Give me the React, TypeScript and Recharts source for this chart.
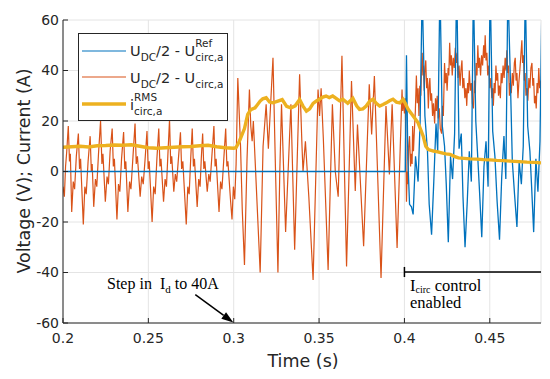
import React from 'react';
import { LineChart, Line, XAxis, YAxis, CartesianGrid, ReferenceLine } from 'recharts';

const xTicks = [0.2, 0.25, 0.3, 0.35, 0.4, 0.45];
const yTicks = [-60, -40, -20, 0, 20, 40, 60];

// U_DC/2 - U_circ,a^Ref  [time s, value V]
const refVoltage: [number, number][] = [
  [0.2, 0], [0.4005, 0], [0.4012, 46], [0.402, 5], [0.403, -13], [0.4041, -14], [0.4051, -17], [0.4065, 6], [0.408, -4], [0.4092, 20], [0.4104, 72],
  [0.412, 22], [0.4135, 8], [0.4145, -13], [0.4159, -25], [0.4172, -4], [0.4185, 19], [0.4195, 8], [0.4208, 74],
  [0.4222, 18], [0.4235, 10], [0.4245, -5], [0.4257, -28], [0.427, 6], [0.4282, -3], [0.4294, 15], [0.4306, 76],
  [0.432, 9], [0.4333, 15], [0.4343, -10], [0.4355, -30], [0.4368, -12], [0.438, 8], [0.4392, -4], [0.4404, 73],
  [0.4418, 20], [0.443, 5], [0.444, -8], [0.4453, -26], [0.4466, 2], [0.4478, 12], [0.449, -6], [0.4502, 75],
  [0.4517, 16], [0.453, 6], [0.4543, -12], [0.4557, -27], [0.457, -2], [0.4583, 14], [0.4594, -3], [0.4606, 74],
  [0.462, 38], [0.4632, 4], [0.4645, -9], [0.4659, -22], [0.4672, 4], [0.4685, -5], [0.4696, 10], [0.4708, 72],
  [0.4722, 18], [0.4735, 8], [0.4745, -6], [0.4757, -24], [0.477, 5], [0.4782, -8], [0.4794, 12], [0.4806, 70],
];

// U_DC/2 - U_circ,a
const circVoltage: [number, number][] = [
  [0.2, -6], [0.2008, -10], [0.2015, 2], [0.2022, 8], [0.2031, 18], [0.2038, 4], [0.2043, 7], [0.2051, -16],
  [0.206, -4], [0.2068, -7], [0.2078, 6], [0.209, 15], [0.2097, 1], [0.2103, 5], [0.2119, -21],
  [0.2128, -6], [0.2136, -9], [0.2147, 4], [0.2159, 14], [0.2166, 0], [0.2171, 3], [0.218, -14],
  [0.219, -3], [0.2198, -6], [0.2208, 7], [0.222, 20], [0.2228, 3], [0.2234, 7], [0.2248, -12],
  [0.2258, -2], [0.2266, -5], [0.2276, 8], [0.2288, 17], [0.2295, 2], [0.2301, 5], [0.2316, -19],
  [0.2325, -5], [0.2333, -8], [0.2343, 5], [0.2355, 15.6], [0.2362, 1], [0.2368, 4], [0.238, -16],
  [0.239, -4], [0.2398, -7], [0.241, 6], [0.2422, 19], [0.2429, 3], [0.2436, 6], [0.2452, -10],
  [0.2461, -2], [0.247, -5], [0.248, 4], [0.2492, 16], [0.2499, 1], [0.2505, 4], [0.2522, -20],
  [0.2531, -6], [0.254, -9], [0.255, 5], [0.2561, 17], [0.2568, 2], [0.2574, 5], [0.2589, -12],
  [0.2598, -3], [0.2606, -6], [0.2614, 6], [0.2624, 20.5], [0.2631, 3], [0.2637, 6], [0.2649, -8],
  [0.2658, -1], [0.2666, -4], [0.2676, 5], [0.2688, 15.5], [0.2695, 1], [0.2702, 4], [0.2722, -21],
  [0.2731, -6], [0.2739, -9], [0.2748, 5], [0.2757, 17], [0.2764, 2], [0.277, 5], [0.2786, -14],
  [0.2795, -3], [0.2803, -6], [0.281, 5], [0.2818, 15], [0.2825, 1], [0.2831, 4], [0.2845, -8],
  [0.2854, -1], [0.2862, -4], [0.2872, 6], [0.2884, 18], [0.2891, 2], [0.2897, 5], [0.2914, -16],
  [0.2923, -4], [0.2931, -7], [0.2942, 5], [0.2953, 17], [0.296, 2], [0.2966, 4], [0.2982, -12],
  [0.299, -19], [0.2998, -6], [0.3006, -11], [0.3014, 3], [0.3024, 37],
  [0.304, 10], [0.305, -15], [0.3063, -37], [0.3078, 5], [0.3092, 32.5], [0.31, 18], [0.3108, 12], [0.3115, 20],
  [0.3125, 5], [0.3155, -40], [0.3172, 10], [0.319, 26.6], [0.3203, 9], [0.323, 45], [0.3245, 0],
  [0.3259, -40], [0.327, 0], [0.328, 26.6], [0.3304, -24], [0.3335, 26.6], [0.3357, -31], [0.3386, 38.5],
  [0.34, 10], [0.3406, 0], [0.342, 12], [0.344, -10], [0.3465, -43], [0.3494, 32.5], [0.3503, 22],
  [0.3512, 33], [0.3525, 13], [0.3553, -39], [0.3578, 26.6], [0.3595, 0], [0.3612, -10], [0.3634, 45.8],
  [0.3661, -37.6], [0.369, 35.8], [0.3712, -7.7], [0.3725, 18.6], [0.3761, -29.6], [0.3794, 34.5],
  [0.3808, 14.7], [0.3824, 37.8], [0.3863, -42.2], [0.3892, 25.9], [0.3912, -1.2], [0.3928, 26.6],
  [0.3957, -30.3], [0.3986, 32.5], [0.399, 24], [0.3995, 29], [0.4, 23], [0.4005, 29], [0.4012, -12],
  [0.4016, 0], [0.402, -5], [0.4025, 10], [0.403, 14], [0.4036, 2], [0.404, 7], [0.4045, 3], [0.4048, 18],
  [0.4053, 8], [0.4058, 16], [0.4064, 24], [0.407, 38], [0.4075, 27], [0.408, 33], [0.4085, 22], [0.409, 34],
  [0.4096, 30], [0.41, 40], [0.4104, 47], [0.4108, 38], [0.4112, 42], [0.4116, 32], [0.412, 40], [0.4125, 44],
  [0.413, 33], [0.4135, 37], [0.414, 25], [0.4145, 34], [0.4149, 37], [0.4154, 28], [0.4159, 31], [0.4165, 22],
  [0.417, 27], [0.4177, 19], [0.4182, 29], [0.4187, 24], [0.4192, 30], [0.4198, 21], [0.4204, 25], [0.421, 17],
  [0.4218, 15], [0.4223, 26], [0.4228, 22], [0.4235, 43], [0.424, 35], [0.4245, 39], [0.425, 32], [0.4256, 41],
  [0.426, 38], [0.4265, 51], [0.427, 42], [0.4275, 46], [0.428, 38], [0.4286, 45], [0.4292, 41], [0.4298, 49],
  [0.4304, 43], [0.4309, 47], [0.4314, 37], [0.432, 42], [0.4326, 34], [0.4331, 40], [0.4337, 44], [0.4342, 33],
  [0.4348, 37], [0.4354, 29], [0.436, 33], [0.4365, 26], [0.437, 35], [0.4375, 31], [0.438, 40], [0.4386, 32],
  [0.4392, 35], [0.4398, 27], [0.4404, 25], [0.441, 36], [0.4415, 31], [0.442, 43], [0.4425, 38], [0.443, 50],
  [0.4435, 41], [0.444, 45], [0.4446, 38], [0.4452, 46], [0.4458, 42], [0.4464, 50], [0.4469, 45], [0.4473, 54],
  [0.4478, 44], [0.4483, 47], [0.4488, 38], [0.4494, 42], [0.45, 33], [0.4506, 37], [0.4512, 29], [0.4517, 33],
  [0.4521, 26], [0.4526, 35], [0.4531, 31], [0.4536, 42], [0.4541, 36], [0.4546, 39], [0.4551, 30], [0.4556, 34],
  [0.4562, 29], [0.4567, 39], [0.4572, 35], [0.4578, 42], [0.4584, 37], [0.459, 45], [0.4595, 40], [0.46, 48],
  [0.4605, 39], [0.461, 42], [0.4615, 30], [0.462, 35], [0.4626, 31], [0.4632, 39], [0.4638, 34], [0.4644, 43],
  [0.4649, 45], [0.4654, 36], [0.4659, 39], [0.4665, 29], [0.467, 35], [0.4676, 40], [0.4682, 46], [0.4688, 52],
  [0.4692, 43], [0.4697, 46], [0.4702, 36], [0.4707, 39], [0.4712, 30], [0.4718, 33], [0.4723, 28], [0.4729, 37],
  [0.4735, 33], [0.4741, 41], [0.4747, 43], [0.4752, 34], [0.4757, 37], [0.4762, 27], [0.4767, 30], [0.4772, 25],
  [0.4777, 35], [0.4782, 31], [0.4787, 41], [0.4792, 33], [0.4796, 36], [0.48, 30],
];

// i_circ,a^RMS  [time s, current A]
const circRms: [number, number][] = [
  [0.2, 9.6], [0.205, 9.8], [0.21, 10], [0.215, 9.7], [0.22, 10.2], [0.225, 10.3], [0.23, 10.5], [0.235, 10.4],
  [0.24, 10.6], [0.245, 10], [0.25, 9.4], [0.255, 9.2], [0.26, 9.4], [0.265, 9.6], [0.27, 9.8], [0.275, 9.9],
  [0.28, 10.2], [0.285, 10.4], [0.29, 9.8], [0.295, 9.4], [0.3, 9.2], [0.3013, 9.4], [0.3033, 12], [0.3063, 17],
  [0.3082, 22.6], [0.31, 24.5], [0.3125, 25.2], [0.3155, 27.9], [0.317, 28.8], [0.319, 29.2], [0.321, 27.5],
  [0.323, 27.2], [0.3259, 27.9], [0.3284, 28.5], [0.331, 25.8], [0.3335, 25.2], [0.336, 26], [0.3386, 28.5],
  [0.3405, 26], [0.3426, 23.9], [0.3445, 24.8], [0.3465, 27], [0.3484, 27.9], [0.3502, 28.6], [0.3522, 29.5],
  [0.3541, 29.9], [0.356, 29.3], [0.358, 29.9], [0.36, 29], [0.362, 28], [0.3639, 28.6], [0.3668, 27],
  [0.3698, 29], [0.372, 26], [0.3737, 24.6], [0.3757, 24.8], [0.3776, 25.9], [0.3796, 27.8], [0.3816, 28.6],
  [0.3835, 27], [0.3855, 25.9], [0.3875, 26.5], [0.3894, 27.2], [0.3913, 28], [0.3933, 28.6], [0.3953, 27.5],
  [0.3973, 27.2], [0.3992, 28.6], [0.4005, 27], [0.4022, 24.6], [0.4051, 22], [0.408, 19.3], [0.411, 14],
  [0.4125, 10], [0.414, 8.7], [0.417, 8.1], [0.4195, 7.8], [0.4218, 7.4], [0.4243, 7], [0.4267, 6.8],
  [0.4292, 6], [0.4316, 5.4], [0.435, 5.2], [0.4384, 5], [0.4423, 4.9], [0.4463, 4.7], [0.45, 4.6],
  [0.4541, 4.4], [0.458, 4.3], [0.462, 4.1], [0.467, 3.9], [0.4718, 3.7], [0.476, 3.6], [0.48, 3.4],
];

const toRows = (pts: [number, number][]) => pts.map(([t, v]) => ({ t, v }));

const AXIS = '#262626';
const BLUE = '#0072BD';
const ORANGE = '#D95319';
const YELLOW = '#EDB120';
const SANS = '"DejaVu Sans", sans-serif';
const SERIF = '"Liberation Serif", "Times New Roman", serif';

const Arrow = (props: any) => {
  const { x1, y1, x2, y2 } = props;
  const dx = x2 - x1;
  const dy = y2 - y1;
  const len = Math.sqrt(dx * dx + dy * dy) || 1;
  const ux = dx / len;
  const uy = dy / len;
  const hl = 12;
  const hw = 4;
  const bx = x2 - ux * hl;
  const by = y2 - uy * hl;
  return (
    <g>
      <line x1={x1} y1={y1} x2={bx} y2={by} stroke="#000" strokeWidth={1.5} />
      <polygon
        points={`${x2},${y2} ${bx - uy * hw},${by + ux * hw} ${bx + uy * hw},${by - ux * hw}`}
        fill="#000"
      />
    </g>
  );
};

const SMALL = 10.5;
const Sub = ({ children }: any) => (
  <span style={{ fontSize: SMALL, verticalAlign: -5, lineHeight: 0 }}>{children}</span>
);
const Stack = ({ sup, sub }: { sup: string; sub: string }) => (
  <span style={{ position: 'relative' }}>
    <Sub>{sub}</Sub>
    <span style={{ position: 'absolute', left: 0, top: -6, fontSize: SMALL, lineHeight: '12px' }}>{sup}</span>
  </span>
);

const LegendRow = ({ color, width, children, lineY, textTop }: any) => (
  <>
    <svg width={50} height={8} style={{ position: 'absolute', left: 0, top: lineY - 4, display: 'block' }}>
      <line x1={3} y1={4} x2={47} y2={4} stroke={color} strokeWidth={width} />
    </svg>
    <div
      style={{
        position: 'absolute',
        left: 51,
        top: textTop,
        fontFamily: SANS,
        fontSize: 14.5,
        lineHeight: '17px',
        color: AXIS,
        whiteSpace: 'nowrap',
      }}
    >
      {children}
    </div>
  </>
);

export default function App() {
  return (
    <div style={{ position: 'relative', width: 550, height: 379, background: '#fff' }}>
      <style>{'body{margin:0;}'}</style>
      <LineChart width={550} height={379} margin={{ top: 20, right: 9, bottom: 26, left: 0 }}>
        <CartesianGrid xAxisId="b" yAxisId="l" stroke="#e4e4e4" />
        <XAxis
          xAxisId="b"
          dataKey="t"
          type="number"
          domain={[0.2, 0.48]}
          ticks={xTicks}
          allowDataOverflow
          height={30}
          tickSize={-5}
          tickMargin={15}
          stroke={AXIS}
          tick={{ fill: AXIS, fontSize: 14, fontFamily: SANS }}
        />
        <XAxis
          xAxisId="t"
          orientation="top"
          dataKey="t"
          type="number"
          domain={[0.2, 0.48]}
          ticks={xTicks}
          allowDataOverflow
          height={0}
          tickSize={-5}
          tick={false}
          stroke={AXIS}
        />
        <YAxis
          yAxisId="l"
          type="number"
          domain={[-60, 60]}
          ticks={yTicks}
          allowDataOverflow
          width={63}
          tickSize={-5}
          tickMargin={9}
          stroke={AXIS}
          tick={{ fill: AXIS, fontSize: 14, fontFamily: SANS }}
        />
        <YAxis
          yAxisId="r"
          orientation="right"
          type="number"
          domain={[-60, 60]}
          ticks={yTicks}
          allowDataOverflow
          width={0}
          tickSize={-5}
          tick={false}
          stroke={AXIS}
        />
        <Line
          xAxisId="b"
          yAxisId="l"
          data={toRows(circVoltage)}
          dataKey="v"
          stroke={ORANGE}
          strokeWidth={1.2}
          dot={false}
          isAnimationActive={false}
        />
        <Line
          xAxisId="b"
          yAxisId="l"
          data={toRows(refVoltage)}
          dataKey="v"
          stroke={BLUE}
          strokeWidth={1.3}
          dot={false}
          isAnimationActive={false}
        />
        <Line
          xAxisId="b"
          yAxisId="l"
          data={toRows(circRms)}
          dataKey="v"
          stroke={YELLOW}
          strokeWidth={3.4}
          dot={false}
          isAnimationActive={false}
        />
        <ReferenceLine
          xAxisId="b"
          yAxisId="l"
          segment={[{ x: 0.2775, y: -48.8 }, { x: 0.2998, y: -59.8 }]}
          shape={Arrow}
          ifOverflow="visible"
        />
        <ReferenceLine
          xAxisId="b"
          yAxisId="l"
          segment={[{ x: 0.4, y: -39.8 }, { x: 0.48, y: -39.8 }]}
          stroke="#000"
          strokeWidth={1.5}
          ifOverflow="visible"
        />
        <ReferenceLine
          xAxisId="b"
          yAxisId="l"
          segment={[{ x: 0.4, y: -37.8 }, { x: 0.4, y: -41.8 }]}
          stroke="#000"
          strokeWidth={1.5}
          ifOverflow="visible"
        />
      </LineChart>

      {/* legend */}
      <div
        style={{
          position: 'absolute',
          left: 78,
          top: 33,
          width: 150,
          height: 88,
          boxSizing: 'border-box',
          border: `1px solid ${AXIS}`,
          background: '#fff',
        }}
      >
        <LegendRow color={BLUE} width={1.2} lineY={16.7} textTop={9.2}>
          U<Sub>DC</Sub>/2 - U<Stack sup="Ref" sub="circ,a" />
        </LegendRow>
        <LegendRow color={ORANGE} width={1.2} lineY={43.3} textTop={35.8}>
          U<Sub>DC</Sub>/2 - U<Sub>circ,a</Sub>
        </LegendRow>
        <LegendRow color={YELLOW} width={3.4} lineY={70.3} textTop={63}>
          i<Stack sup="RMS" sub="circ,a" />
        </LegendRow>
      </div>

      {/* axis labels */}
      <div
        style={{
          position: 'absolute',
          left: 24,
          top: 171,
          transform: 'translate(-50%, -50%) rotate(-90deg)',
          fontFamily: SANS,
          fontSize: 17.5,
          color: AXIS,
          whiteSpace: 'nowrap',
        }}
      >
        Voltage (V); Current (A)
      </div>
      <div
        style={{
          position: 'absolute',
          left: 303,
          top: 361,
          transform: 'translate(-50%, -50%)',
          fontFamily: SANS,
          fontSize: 17.5,
          color: AXIS,
          whiteSpace: 'nowrap',
        }}
      >
        Time (s)
      </div>

      {/* annotations */}
      <div
        style={{
          position: 'absolute',
          left: 107,
          top: 276,
          fontFamily: SERIF,
          fontSize: 16,
          lineHeight: '16px',
          color: '#000',
          whiteSpace: 'nowrap',
        }}
      >
        Step in&nbsp; I<span style={{ fontSize: 11, verticalAlign: -4, lineHeight: 0 }}>d</span> to 40A
      </div>
      <div
        style={{
          position: 'absolute',
          left: 410,
          top: 278,
          fontFamily: SERIF,
          fontSize: 16.5,
          lineHeight: '16px',
          color: '#000',
          whiteSpace: 'nowrap',
        }}
      >
        I<span style={{ fontSize: 10, verticalAlign: -2, lineHeight: 0 }}>circ</span> control
      </div>
      <div
        style={{
          position: 'absolute',
          left: 410,
          top: 295,
          fontFamily: SERIF,
          fontSize: 16.5,
          lineHeight: '16px',
          color: '#000',
          whiteSpace: 'nowrap',
        }}
      >
        enabled
      </div>
    </div>
  );
}
